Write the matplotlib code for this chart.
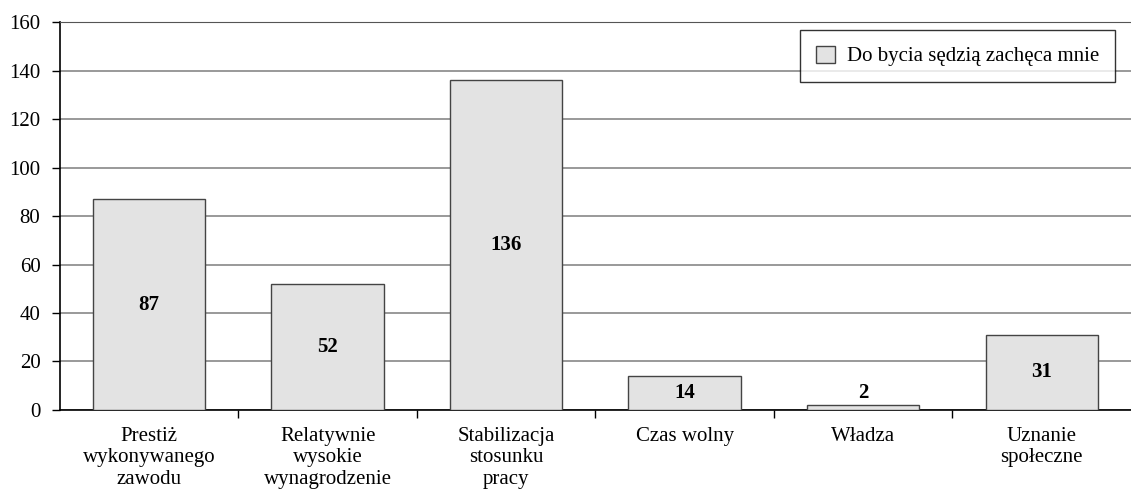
import numpy as np
import matplotlib.pyplot as plt

plt.rcParams['font.family'] = ['Liberation Serif', 'DejaVu Serif']

categories = ['Prestiż\nwykonywanego\nzawodu', 'Relatywnie\nwysokie\nwynagrodzenie',
              'Stabilizacja\nstosunku\npracy', 'Czas wolny', 'Władza', 'Uznanie\nspołeczne']
values = [87, 52, 136, 14, 2, 31]
series_name = 'Do bycia sędzią zachęca mnie'
yticks = [0, 20, 40, 60, 80, 100, 120, 140, 160]

fig = plt.figure(figsize=(11.31, 5.03), dpi=100)
ax = fig.add_axes([0.053, 0.185, 0.947, 0.771])

x = np.arange(len(values))
bars = ax.bar(x, values, width=0.63, color='#e3e3e3', edgecolor='#444444', linewidth=1.0,
              label=series_name, zorder=3)

for xi, v in zip(x, values):
    if v < 10:
        ax.text(xi, v + 0.8, str(v), ha='center', va='bottom', fontsize=15, fontweight='bold', zorder=4)
    else:
        ax.text(xi, v / 2, str(v), ha='center', va='center', fontsize=15, fontweight='bold', zorder=4)

ax.set_xlim(-0.5, len(values) - 0.5)
ax.set_ylim(0, 160)
ax.set_yticks(yticks)
ax.tick_params(axis='y', labelsize=15, length=6, width=1, direction='out', pad=8)
ax.yaxis.grid(True, color='#888888', linewidth=1.2, zorder=0)
ax.set_axisbelow(True)

# category ticks sit between the bars, labels under the bars
ax.set_xticks(np.arange(len(values) - 1) + 0.5)
ax.set_xticklabels([])
ax.tick_params(axis='x', length=6, width=1, direction='out')
ax.set_xticks(x, minor=True)
ax.set_xticklabels(categories, minor=True, fontsize=15, linespacing=1.18)
ax.tick_params(axis='x', which='minor', length=0, pad=12)

ax.spines['right'].set_visible(False)
ax.spines['top'].set_color('#555555')
ax.spines['left'].set_linewidth(1.2)
ax.spines['bottom'].set_linewidth(1.2)

leg = ax.legend(loc='upper right', bbox_to_anchor=(0.985, 0.98), fontsize=15, frameon=True,
                fancybox=False, edgecolor='black', borderpad=0.75, handlelength=0.9, handleheight=0.9,
                handletextpad=0.6, borderaxespad=0)
leg.get_frame().set_linewidth(1.0)

fig.savefig('out.png', dpi=100)
